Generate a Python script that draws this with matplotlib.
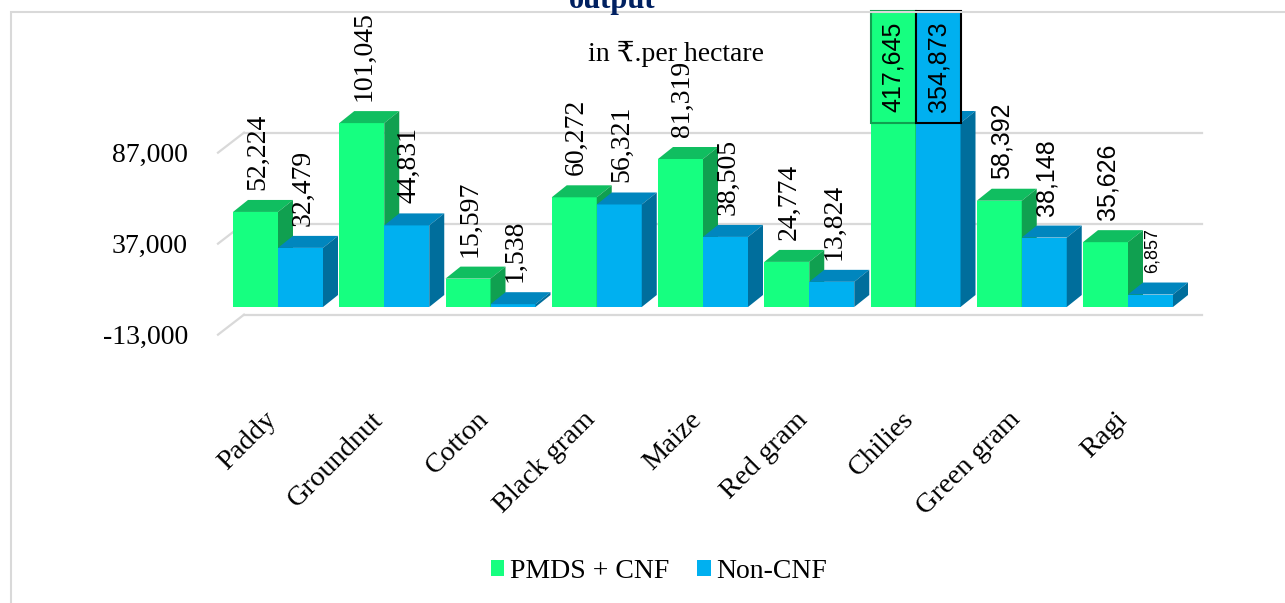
import matplotlib.pyplot as plt
from matplotlib.patches import Polygon, Patch, Rectangle
from matplotlib.transforms import ScaledTranslation

# data (Rs. per hectare)
crops = ['Paddy', 'Groundnut', 'Cotton', 'Black gram', 'Maize',
         'Red gram', 'Chilies', 'Green gram', 'Ragi']
pmds_cnf = [52224, 101045, 15597, 60272, 81319, 24774, 417645, 58392, 35626]
non_cnf = [32479, 44831, 1538, 56321, 38505, 13824, 354873, 38148, 6857]
y_ticks = [-13000, 37000, 87000]
y_min, y_max = -13000, 101100

W, H = 1285, 603
DPI = 100
SERIF = ['Liberation Serif', 'DejaVu Serif', 'DejaVu Sans']
SANS = ['Liberation Sans', 'DejaVu Sans']

# colours: front, top, side
green = ('#16FF80', '#10BE60', '#10A050')
blue = ('#00B0F0', '#0086BE', '#006E9C')

fig = plt.figure(figsize=(W / DPI, H / DPI), dpi=DPI)

# plot area in pixels; value 0 of the bar plane sits at y=307
ppv = 0.00182                     # pixels per value unit
px_l, px_r = 218, 1202
px_t = 307 - y_max * ppv
px_b = 307 - y_min * ppv
ax = fig.add_axes([px_l / W, 1 - px_b / H, (px_r - px_l) / W, (px_b - px_t) / H])
cat_px = 106.25
x_lo = (px_l - 278) / cat_px
x_hi = (px_r - 278) / cat_px
ax.set_xlim(x_lo, x_hi)
ax.set_ylim(y_min, y_max)
for s in ax.spines.values():
    s.set_visible(False)

vpp = 1 / ppv        # value per pixel
cpp = 1 / cat_px     # category per pixel

def px_shift(dx, dy):
    return ScaledTranslation(dx / DPI, dy / DPI, fig.dpi_scale_trans)

# back wall gridlines + left diagonal ticks
for v in y_ticks:
    yb = v + 16 * vpp
    yf = v - 4 * vpp
    ax.plot([x_lo, x_lo + 26 * cpp], [yf, yb], color='#D9D9D9', lw=1.6,
            clip_on=False, zorder=1)
    ax.plot([x_lo + 26 * cpp, x_hi], [yb, yb], color='#D9D9D9', lw=1.6,
            clip_on=False, zorder=1)

bw = 45 * cpp
ddx, ddy = 15 * cpp, 12 * vpp

def bar3d(x0, val, cols, z):
    h = min(val, y_max)
    ax.bar(x0, h, width=bw, align='edge', color=cols[0], zorder=z, clip_on=False)
    x1 = x0 + bw
    top = [(x0, h), (x0 + ddx, h + ddy), (x1 + ddx, h + ddy), (x1, h)]
    side = [(x1, 0), (x1 + ddx, ddy), (x1 + ddx, h + ddy), (x1, h)]
    ax.add_patch(Polygon(top, closed=True, fc=cols[1], ec='none', zorder=z, clip_on=False))
    ax.add_patch(Polygon(side, closed=True, fc=cols[2], ec='none', zorder=z, clip_on=False))
    return h

z = 2
for i in range(len(crops)):
    for j, (vals, cols) in enumerate([(pmds_cnf, green), (non_cnf, blue)]):
        val = vals[i]
        x0 = i - bw if j == 0 else i
        h = bar3d(x0, val, cols, z)
        z += 1
        xc = x0 + bw / 2
        fam = SERIF if i < 6 else SANS
        size = 20 if i < 6 else 18
        if i == 8 and j == 1:
            size = 13
        txt = f'{val:,}'
        if val > y_max:
            yc = y_max + (px_t - 67) * vpp
            ec = '#10A050' if j == 0 else 'black'
            ax.text(xc, yc, txt, rotation=90, ha='center', va='center',
                    fontsize=size, family=fam, zorder=50, clip_on=False,
                    bbox=dict(boxstyle='square,pad=0.42', fc=cols[0], ec=ec, lw=1.5))
        else:
            ax.text(xc + 2 * cpp, h + ddy + 10 * vpp, txt, rotation=90,
                    ha='center', va='bottom', fontsize=size, family=fam,
                    zorder=50, clip_on=False)

# y tick labels on the front plane
ax.set_yticks(y_ticks)
ax.set_yticklabels([f'{t:,}' for t in y_ticks], fontsize=20, family=SERIF)
ax.tick_params(axis='y', length=0, pad=21.6)
for lab in ax.get_yticklabels():
    lab.set_transform(lab.get_transform() + px_shift(0, -4))

# category labels
ax.set_xticks(range(len(crops)))
ax.set_xticklabels(crops, rotation=45, ha='right', va='top',
                   rotation_mode='anchor', fontsize=20.5, family=SERIF)
ax.tick_params(axis='x', length=0, pad=55)
for lab in ax.get_xticklabels():
    lab.set_transform(lab.get_transform() + px_shift(-14, 0))

# chart border, titles
fig.patches.append(Rectangle((11 / W, -0.1), 1.2, 1 - 12 / H + 0.1,
                             transform=fig.transFigure, fill=False,
                             ec='#D9D9D9', lw=1.5))
fig.text(612 / W, 1 - 8 / H, 'output', ha='center', va='baseline',
         fontsize=22, weight='bold', color='#002060', family=SERIF)
fig.text(676 / W, 1 - 61 / H, 'in \u20b9.per hectare', ha='center',
         va='baseline', fontsize=20, family=SERIF)

handles = [Patch(fc=green[0], label='PMDS + CNF'), Patch(fc=blue[0], label='Non-CNF')]
fig.legend(handles=handles, loc='center', bbox_to_anchor=(659 / W, 1 - 571 / H),
           ncol=2, frameon=False, prop={'family': SERIF, 'size': 20},
           handlelength=0.5, handleheight=0.5, handletextpad=0.2,
           columnspacing=1.0, borderpad=0)

fig.savefig('out.png', dpi=DPI)
